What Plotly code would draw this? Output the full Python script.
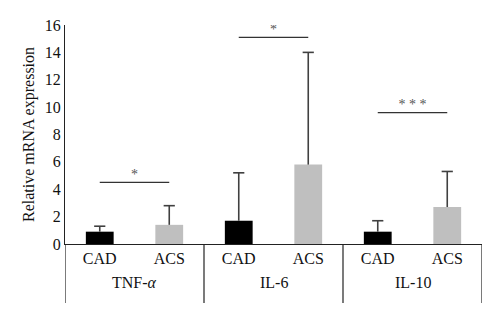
import plotly.graph_objects as go

groups = ["TNF-<i>α</i>", "IL-6", "IL-10"]
conds = ["CAD", "ACS"]
cad_vals = [0.9, 1.7, 0.9]
acs_vals = [1.4, 5.8, 2.7]
cad_err = [0.4, 3.5, 0.8]
acs_err = [1.4, 8.2, 2.6]
sig_labels = ["*", "*", "* * *"]
sig_heights = [4.5, 15.1, 9.6]

FONT = "Liberation Serif"
fig = go.Figure()

series = [("CAD", cad_vals, cad_err, "#000000"), ("ACS", acs_vals, acs_err, "#bfbfbf")]
for c, (cond, vals, errs, col) in enumerate(series):
    xs = [2 * g + c for g in range(len(groups))]
    fig.add_trace(go.Bar(x=xs, y=vals, marker_color=col, width=0.4,
                         marker_line_width=0, showlegend=False))
    # one-sided error bars
    lx, ly = [], []
    for x, v, e in zip(xs, vals, errs):
        lx += [x, x, None]
        ly += [v, v + e, None]
    fig.add_trace(go.Scatter(x=lx, y=ly, mode="lines",
                             line=dict(color="#404040", width=1.6),
                             showlegend=False, hoverinfo="skip"))
    fig.add_trace(go.Scatter(x=xs, y=[v + e for v, e in zip(vals, errs)], mode="markers",
                             marker=dict(symbol="line-ew", size=8,
                                         line=dict(color="#404040", width=1.6)),
                             showlegend=False, hoverinfo="skip"))

for i, (lab, h) in enumerate(zip(sig_labels, sig_heights)):
    fig.add_trace(go.Scatter(x=[2 * i, 2 * i + 1], y=[h, h], mode="lines",
                             line=dict(color="#333333", width=1.3),
                             showlegend=False, hoverinfo="skip"))
    fig.add_trace(go.Scatter(x=[2 * i + 0.5], y=[h], mode="text", text=[lab],
                             textposition="top center",
                             textfont=dict(family=FONT, size=14, color="#555555"),
                             showlegend=False, hoverinfo="skip"))

# group labels and dividers
for g, name in enumerate(groups):
    fig.add_annotation(x=2 * g + 0.5, xref="x", y=-0.178, yref="paper",
                       text=name, showarrow=False, yanchor="middle",
                       font=dict(family=FONT, size=16, color="#111111"))
for b in range(len(groups) + 1):
    fig.add_shape(type="line", xref="x", yref="paper", x0=2 * b - 0.5, x1=2 * b - 0.5,
                  y0=0, y1=-0.269, line=dict(color="#222222", width=1.2))

fig.update_layout(
    width=500, height=322,
    margin=dict(l=65, r=18, t=25, b=78),
    plot_bgcolor="white", paper_bgcolor="white",
    font=dict(family=FONT, size=16, color="#111111"),
    xaxis=dict(range=[-0.5, 5.5], tickvals=list(range(6)), ticktext=conds * 3,
               showline=True, linecolor="#222222", linewidth=1.2, showgrid=False,
               zeroline=False, ticks="", tickfont=dict(family=FONT, size=16)),
    yaxis=dict(range=[0, 16], dtick=2, showline=True, linecolor="#222222", linewidth=1.2,
               showgrid=False, zeroline=False, ticks="",
               title=dict(text="Relative mRNA expression", standoff=6,
                          font=dict(family=FONT, size=16)),
               tickfont=dict(family=FONT, size=16)),
)
fig.write_html("out.html")
